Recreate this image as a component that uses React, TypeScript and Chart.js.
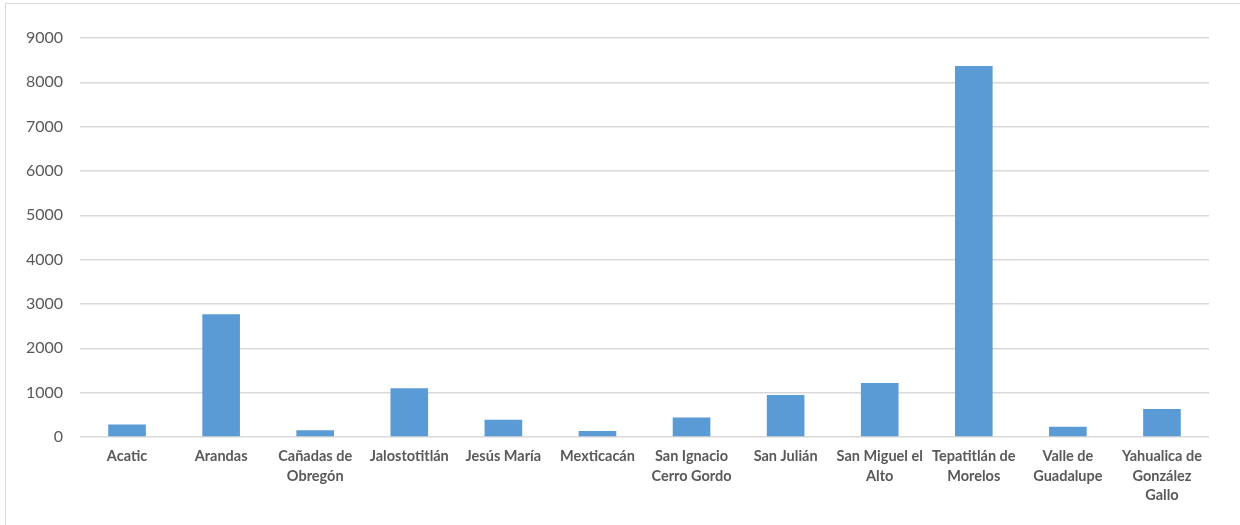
import React, { useEffect, useRef } from "react";
import { Chart, registerables } from "chart.js";

Chart.register(...registerables);

const categories: (string | string[])[] = [
  "Acatic",
  "Arandas",
  ["Cañadas de", "Obregón"],
  "Jalostotitlán",
  "Jesús María",
  "Mexticacán",
  ["San Ignacio", "Cerro Gordo"],
  "San Julián",
  ["San Miguel el", "Alto"],
  ["Tepatitlán de", "Morelos"],
  ["Valle de", "Guadalupe"],
  ["Yahualica de", "González", "Gallo"],
];

const values: number[] = [280, 2770, 150, 1100, 390, 135, 440, 945, 1220, 8370, 230, 630];

const yMin = 0;
const yMax = 9000;
const yStep = 1000;

const FONT = "Lato, 'Open Sans', sans-serif";

export default function App() {
  const ref = useRef<HTMLCanvasElement | null>(null);

  useEffect(() => {
    document.body.style.margin = "0";
    if (!ref.current) return;
    const chart = new Chart(ref.current, {
      type: "bar",
      data: {
        labels: categories,
        datasets: [
          {
            data: values,
            backgroundColor: "#5B9BD5",
            borderWidth: 0,
            categoryPercentage: 1,
            barPercentage: 0.4,
          },
        ],
      },
      options: {
        animation: false,
        responsive: false,
        maintainAspectRatio: false,
        layout: { padding: { top: 38, right: 31, left: 0, bottom: 0 } },
        plugins: { legend: { display: false }, tooltip: { enabled: false } },
        scales: {
          x: {
            grid: { display: false, drawTicks: false },
            border: { display: false },
            ticks: {
              color: "#595959",
              font: { family: FONT, size: 14.5, weight: "bold", lineHeight: 1.34 },
              padding: 10,
              maxRotation: 0,
              autoSkip: false,
            },
            afterFit: (scale: any) => {
              scale.height = 525 - 437;
            },
          },
          y: {
            min: yMin,
            max: yMax,
            grid: { color: "#D9D9D9", lineWidth: 1.5, drawTicks: false },
            border: { display: false },
            ticks: {
              stepSize: yStep,
              color: "#595959",
              font: { family: FONT, size: 16 },
              padding: 17,
              callback: (v: any) => String(v),
            },
            afterFit: (scale: any) => {
              scale.width = 80;
            },
          },
        },
      },
    });
    return () => chart.destroy();
  }, []);

  return (
    <div style={{ position: "relative", width: 1240, height: 525, overflow: "hidden", background: "#fff" }}>
      <div
        style={{
          position: "absolute",
          left: 5,
          top: 3,
          width: 1260,
          height: 560,
          border: "1px solid #D9D9D9",
          boxSizing: "border-box",
        }}
      />
      <canvas ref={ref} width={1240} height={525} style={{ position: "absolute", left: 0, top: 0 }} />
    </div>
  );
}
